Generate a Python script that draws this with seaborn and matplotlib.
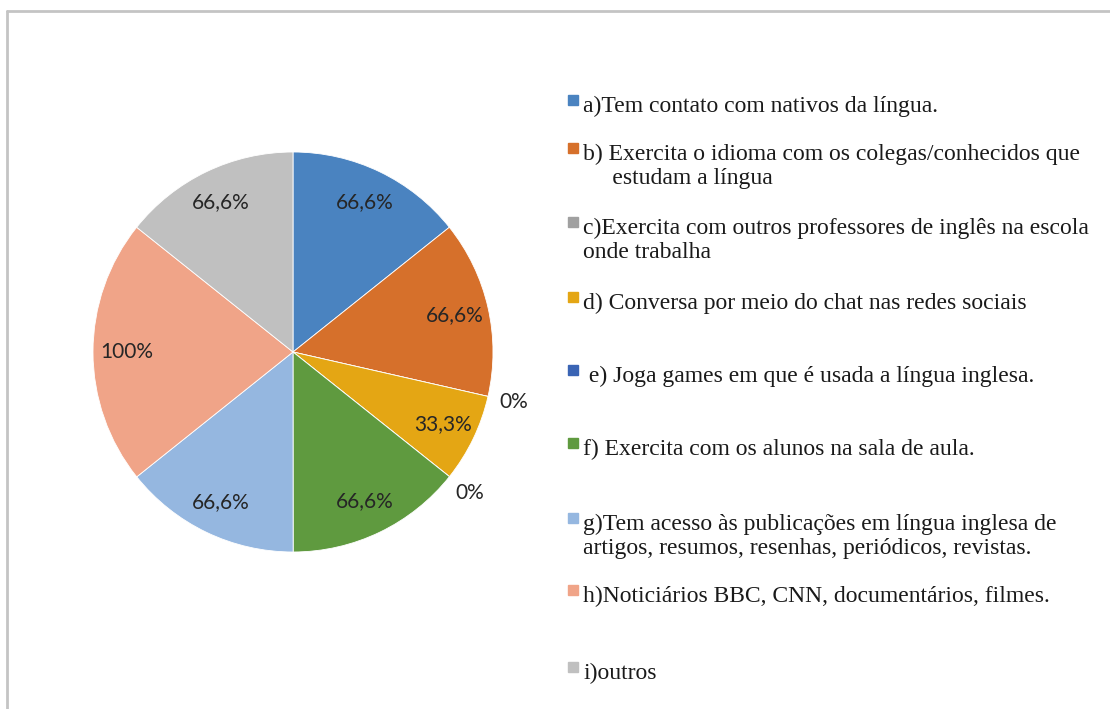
import matplotlib
matplotlib.use("Agg")
import matplotlib.pyplot as plt
import matplotlib.patches as mpatches
import seaborn as sns
import numpy as np

# Data
categories = [
    "a)Tem contato com nativos da língua.",
    "b) Exercita o idioma com os colegas/conhecidos que\n     estudam a língua",
    "c)Exercita com outros professores de inglês na escola\nonde trabalha",
    "d) Conversa por meio do chat nas redes sociais",
    " e) Joga games em que é usada a língua inglesa.",
    "f) Exercita com os alunos na sala de aula.",
    "g)Tem acesso às publicações em língua inglesa de\nartigos, resumos, resenhas, periódicos, revistas.",
    "h)Noticiários BBC, CNN, documentários, filmes.",
    "i)outros",
]
values = [66.6, 66.6, 0, 33.3, 0, 66.6, 66.6, 100, 66.6]
value_labels = ["66,6%", "66,6%", "0%", "33,3%", "0%", "66,6%", "66,6%", "100%", "66,6%"]
colors = ["#4a83c0", "#d6702b", "#a0a0a0", "#e4a614", "#3a64b4",
          "#5f9a3f", "#95b7e0", "#f0a488", "#c0c0c0"]

# layout: y pixel of each legend entry (first line), from the top
legend_rows = [100, 148, 222, 297, 370, 443, 518, 590, 667]

sns.set_theme(style="white")
W, H = 1110, 709
fig = plt.figure(figsize=(W / 100, H / 100), dpi=100)
fig.patch.set_facecolor("white")

# outer frame (top and left edges visible)
fig.add_artist(plt.Line2D([7 / W, 7 / W], [0, 1 - 11 / H], transform=fig.transFigure,
                          color="#c4c4c4", lw=2))
fig.add_artist(plt.Line2D([7 / W, 1], [1 - 11 / H, 1 - 11 / H], transform=fig.transFigure,
                          color="#c4c4c4", lw=2))

cx, cy, r = 293, 352, 200
ax = fig.add_axes([(cx - r) / W, (H - cy - r) / H, 2 * r / W, 2 * r / H])
wedges, _ = ax.pie(values, colors=sns.color_palette(colors), startangle=90,
                   counterclock=False, radius=1,
                   wedgeprops=dict(edgecolor="white", linewidth=0.6))
ax.set_xlim(-1, 1)
ax.set_ylim(-1, 1)
ax.set_aspect("equal")
ax.axis("off")

for w, v, lab in zip(wedges, values, value_labels):
    ang = np.deg2rad((w.theta1 + w.theta2) / 2)
    dist = 0.83 if v > 0 else 1.13
    ax.text(dist * np.cos(ang), dist * np.sin(ang), lab, ha="center", va="center",
            fontsize=15, color="#262626", family=["Lato", "DejaVu Sans"])

# legend drawn entry by entry to follow the reference spacing
for lab, col, y in zip(categories, colors, legend_rows):
    fig.add_artist(mpatches.Rectangle((568 / W, 1 - (y + 5) / H), 10 / W, 10 / H,
                                      transform=fig.transFigure, color=col))
    fig.text(583 / W, 1 - (y - 4) / H, lab, ha="left", va="top", fontsize=17,
             family=["Liberation Serif", "DejaVu Serif"], color="#1a1a1a",
             linespacing=1.15)

fig.savefig("out.png", dpi=100)
